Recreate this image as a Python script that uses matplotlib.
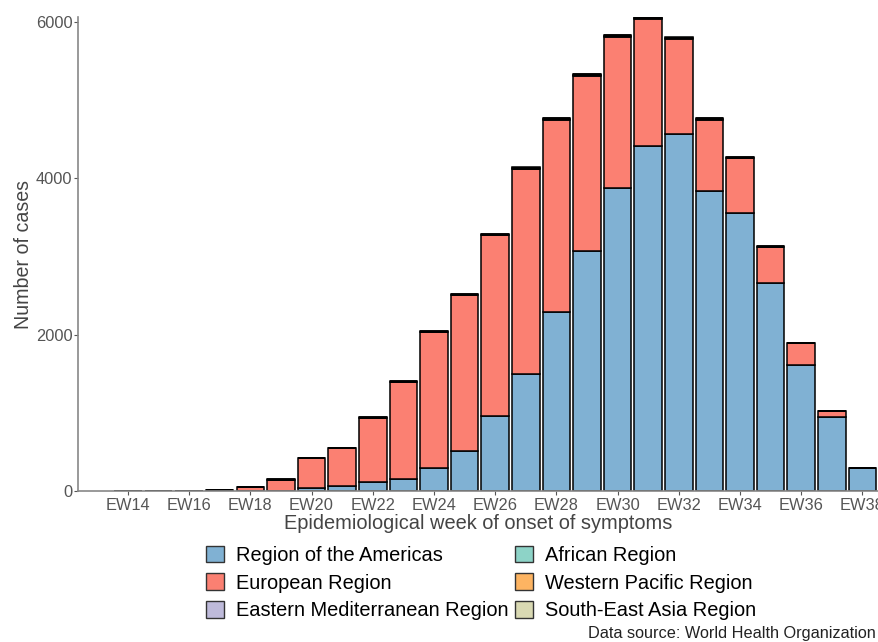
import matplotlib.pyplot as plt
import matplotlib.patches as mpatches
import numpy as np

plt.rcParams['font.family'] = ['Liberation Sans', 'DejaVu Sans']

weeks = ['EW%d' % w for w in range(14, 39)]
americas = [0, 0, 0, 2, 5, 8, 40, 65, 115, 150, 290, 515, 960, 1500, 2290, 3065,
            3880, 4405, 4570, 3830, 3560, 2660, 1610, 945, 295]
europe = [3, 2, 5, 8, 50, 140, 380, 480, 820, 1245, 1740, 1990, 2310, 2615, 2460, 2245,
          1925, 1630, 1210, 920, 695, 460, 280, 80, 2]
east_med = [0, 0, 0, 0, 0, 0, 0, 2, 2, 3, 3, 4, 5, 6, 6, 8, 8, 8, 8, 6, 5, 4, 2, 1, 0]
african = [0, 0, 0, 0, 0, 0, 0, 0, 0, 0, 0, 1, 1, 1, 1, 1, 1, 1, 1, 1, 1, 1, 0, 0, 0]
west_pac = [0, 0, 0, 0, 0, 2, 3, 4, 5, 6, 8, 10, 12, 14, 14, 14, 12, 10, 8, 6, 4, 3, 2, 1, 0]
se_asia = [0, 0, 0, 0, 0, 0, 0, 0, 0, 0, 1, 1, 1, 2, 2, 2, 2, 2, 2, 1, 1, 1, 0, 0, 0]

series = [
    ('Region of the Americas', americas, '#80B1D3'),
    ('European Region', europe, '#FB8072'),
    ('Eastern Mediterranean Region', east_med, '#BEBADA'),
    ('African Region', african, '#8DD3C7'),
    ('Western Pacific Region', west_pac, '#FDB462'),
    ('South-East Asia Region', se_asia, '#D9D9B3'),
]

fig = plt.figure(figsize=(8.79, 6.42), dpi=100)
ax = fig.add_axes([0.0887, 0.235, 0.9113, 0.7385])

x = np.arange(len(weeks))
bottom = np.zeros(len(weeks))
for name, vals, col in series:
    vals = np.array(vals, dtype=float)
    ax.bar(x, vals, bottom=bottom, width=0.9, color=col, edgecolor='black',
           linewidth=1.1)
    bottom += vals

ax.set_xlim(-1.63, 24.54)
ax.set_ylim(0, 6060)
ax.set_yticks([0, 2000, 4000, 6000])
ax.set_xticks(x[::2])
ax.set_xticklabels(weeks[::2])
ax.tick_params(axis='both', colors='#555555', labelsize=11.8, length=3, width=0.8)
ax.tick_params(axis='y', pad=1)
ax.tick_params(axis='x', pad=2)
for s in ['top', 'right']:
    ax.spines[s].set_visible(False)
for s in ['left', 'bottom']:
    ax.spines[s].set_color('#888888')
    ax.spines[s].set_linewidth(1.2)

ax.set_xlabel('Epidemiological week of onset of symptoms', fontsize=14.4,
              color='#444444', labelpad=1)
ax.set_ylabel('Number of cases', fontsize=14.1, color='#444444', labelpad=2)

handles = [mpatches.Patch(facecolor=c, edgecolor='#333333', label=n)
           for n, _, c in series]
fig.legend(handles=handles, loc='center', bbox_to_anchor=(0.547, 0.092), ncol=2,
           frameon=False, fontsize=14.4, handlelength=0.9, handleheight=0.9,
           handletextpad=0.6, columnspacing=0.3, labelspacing=0.42)

fig.text(0.996, 0.002, 'Data source: World Health Organization', ha='right',
         va='bottom', fontsize=11.7, color='#222222')

fig.savefig('out.png', dpi=100)
